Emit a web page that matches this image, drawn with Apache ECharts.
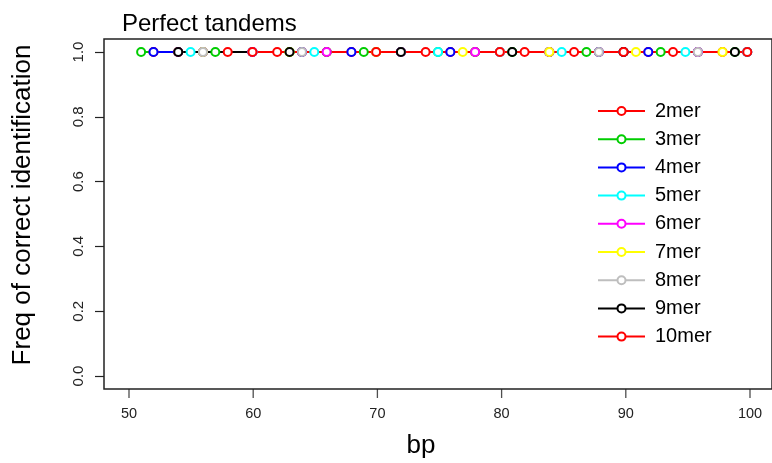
<!DOCTYPE html>
<html>
<head>
<meta charset="utf-8">
<script src="https://cdn.jsdelivr.net/npm/echarts@6/dist/echarts.min.js"></script>
<style>
  html, body { margin: 0; padding: 0; background: #fff; }
  #chart { width: 772px; height: 463px; }
</style>
</head>
<body>
<div id="chart"></div>
<script>
// repeat lengths shown in the legend
const names = ["2mer", "3mer", "4mer", "5mer", "6mer", "7mer", "8mer", "9mer", "10mer"];
const colors = ["#FF0000", "#00CD00", "#0000FF", "#00FFFF", "#FF00FF", "#FFFF00", "#BEBEBE", "#000000", "#FF0000"];

// tandem length (bp) for each repeat size
const bp2 = [52, 54, 56, 58, 60, 62, 64, 66, 68, 70, 72, 74, 76, 78, 80, 82, 84, 86, 88, 90, 92, 94, 96, 98, 100];
const bp3 = [51, 54, 57, 60, 63, 66, 69, 72, 75, 78, 81, 84, 87, 90, 93, 96, 99];
const bp4 = [52, 56, 60, 64, 68, 72, 76, 80, 84, 88, 92, 96, 100];
const bp5 = [55, 60, 65, 70, 75, 80, 85, 90, 95, 100];
const bp6 = [54, 60, 66, 72, 78, 84, 90, 96];
const bp7 = [56, 63, 70, 77, 84, 91, 98];
const bp8 = [56, 64, 72, 80, 88, 96];
const bp9 = [54, 63, 72, 81, 90, 99];
const bp10 = [60, 70, 80, 90, 100];

// frequency of correct identification
const freq2 = [1, 1, 1, 1, 1, 1, 1, 1, 1, 1, 1, 1, 1, 1, 1, 1, 1, 1, 1, 1, 1, 1, 1, 1, 1];
const freq3 = [1, 1, 1, 1, 1, 1, 1, 1, 1, 1, 1, 1, 1, 1, 1, 1, 1];
const freq4 = [1, 1, 1, 1, 1, 1, 1, 1, 1, 1, 1, 1, 1];
const freq5 = [1, 1, 1, 1, 1, 1, 1, 1, 1, 1];
const freq6 = [1, 1, 1, 1, 1, 1, 1, 1];
const freq7 = [1, 1, 1, 1, 1, 1, 1];
const freq8 = [1, 1, 1, 1, 1, 1];
const freq9 = [1, 1, 1, 1, 1, 1];
const freq10 = [1, 1, 1, 1, 1];

const xTicks = [50, 60, 70, 80, 90, 100];
const yTicks = [0, 0.2, 0.4, 0.6, 0.8, 1.0];

const bps = [bp2, bp3, bp4, bp5, bp6, bp7, bp8, bp9, bp10];
const freqs = [freq2, freq3, freq4, freq5, freq6, freq7, freq8, freq9, freq10];

const font = "Liberation Sans, Arial, sans-serif";

const series = names.map((name, i) => ({
  name: name,
  type: "line",
  data: bps[i].map((b, j) => [b, freqs[i][j]]),
  symbol: "emptyCircle",
  symbolSize: 8,
  color: colors[i],
  lineStyle: { width: 2, color: colors[i] },
  itemStyle: { color: colors[i], borderColor: colors[i], borderWidth: 2 },
  emphasis: { disabled: true },
}));

// bp tick marks: thin bars in the strip grid under the plot
series.push({
  name: "ticks",
  type: "scatter",
  xAxisIndex: 1,
  yAxisIndex: 1,
  z: 20,
  silent: true,
  clip: false,
  symbol: "rect",
  symbolSize: [1.3, 9],
  itemStyle: { color: "#222" },
  data: xTicks.map((v) => [v, 0.5]),
});

const chart = echarts.init(document.getElementById("chart"));
chart.setOption({
  animation: false,
  backgroundColor: "#fff",
  grid: [
    {
      left: 104, top: 39, width: 671, height: 350,
      show: true, borderColor: "#222", borderWidth: 1.5, backgroundColor: "transparent",
    },
    // thin strip under the plot spanning 50..100 for the bp ticks
    { left: 129, top: 389, width: 621, height: 9, show: false },
  ],
  xAxis: [
    {
      type: "value", min: 48, max: 102, gridIndex: 0,
      splitLine: { show: false },
      axisLine: { show: false },
      axisTick: { show: false },
      axisLabel: { show: false },
    },
    {
      type: "value", min: 50, max: 100, interval: 10, gridIndex: 1, position: "bottom", z: 20,
      splitLine: { show: false },
      axisLine: { show: false },
      axisTick: { show: false },
      axisLabel: { margin: 8, fontSize: 14.5, color: "#222", fontFamily: font },
    },
  ],
  yAxis: [
    {
      type: "value", min: -0.04, max: 1.04, gridIndex: 0,
      splitLine: { show: false },
      axisLine: { show: false, onZero: false },
      axisTick: { show: true, inside: false, customValues: yTicks, length: 9, lineStyle: { color: "#222", width: 1.2 } },
      axisLabel: {
        customValues: yTicks, rotate: 90, margin: 18, fontSize: 15, color: "#222", fontFamily: font,
        formatter: (v) => v.toFixed(1),
      },
    },
    { type: "value", min: 0, max: 1, gridIndex: 1, show: false },
  ],
  legend: {
    orient: "vertical",
    left: 597, top: 101, padding: 0,
    itemWidth: 47, itemHeight: 10, itemGap: 8.2,
    textStyle: { fontSize: 20, lineHeight: 20, color: "#000", fontFamily: font, padding: [0, 0, 0, 5] },
    data: names,
    selectedMode: false,
  },
  graphic: [
    {
      type: "text", left: 122, top: 12,
      style: { text: "Perfect tandems", fontSize: 24, fill: "#000", fontFamily: font },
    },
    {
      type: "text", x: 421, y: 446,
      style: { text: "bp", fontSize: 26, fill: "#000", fontFamily: font, align: "center", verticalAlign: "middle" },
    },
    {
      type: "text", x: 23, y: 205, rotation: Math.PI / 2,
      style: { text: "Freq of correct identification", fontSize: 26, fill: "#000", fontFamily: font, align: "center", verticalAlign: "middle" },
    },
  ],
  series: series,
});
</script>
</body>
</html>
